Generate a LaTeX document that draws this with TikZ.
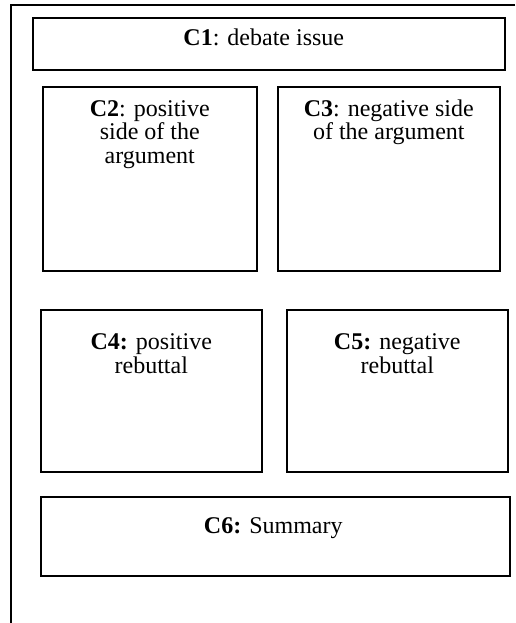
\documentclass[tikz,border=0pt]{standalone}
\usepackage{fontspec}
\setmainfont{Liberation Serif}
\usepackage{tikz}

\begin{document}
\begin{tikzpicture}[x=1pt, y=-1pt,
        box/.style={draw, line width=1.6pt, anchor=north west, inner sep=0pt},
        txt/.style={anchor=base, align=center, inner sep=0pt,
                    font=\fontsize{24}{23.5}\selectfont}]
    \useasboundingbox (0,0) rectangle (515,623);
    \draw[line width=1.6pt] (515,5) -- (11,5) -- (11,623);

    \node[box, minimum width=472, minimum height=52] (c1) at (32,17) {};
    \node[box, minimum width=214, minimum height=184] (c2) at (42,86) {};
    \node[box, minimum width=222, minimum height=184] (c3) at (277,86) {};
    \node[box, minimum width=221, minimum height=162] (c4) at (40,309) {};
    \node[box, minimum width=221, minimum height=162] (c5) at (286,309) {};
    \node[box, minimum width=469, minimum height=79] (c6) at (40,496) {};

    % base anchor sits on the last line
    \node[txt] (c1t) at ([xshift=-5pt, yshift=-29pt]c1.north) {\textbf{C1}: debate issue};
    \node[txt] (c2t) at ([yshift=-77pt]c2.north) {\textbf{C2}: positive\\side of the\\argument};
    \node[txt] (c3t) at ([yshift=-53.5pt]c3.north) {\textbf{C3}: negative side\\of the argument};
    \node[txt] (c4t) at ([yshift=-64pt]c4.north) {\textbf{C4:} positive\\rebuttal};
    \node[txt] (c5t) at ([yshift=-64pt]c5.north) {\textbf{C5:} negative\\rebuttal};
    \node[txt] (c6t) at ([xshift=-2pt, yshift=-37pt]c6.north) {\textbf{C6:} Summary};
\end{tikzpicture}
\end{document}
